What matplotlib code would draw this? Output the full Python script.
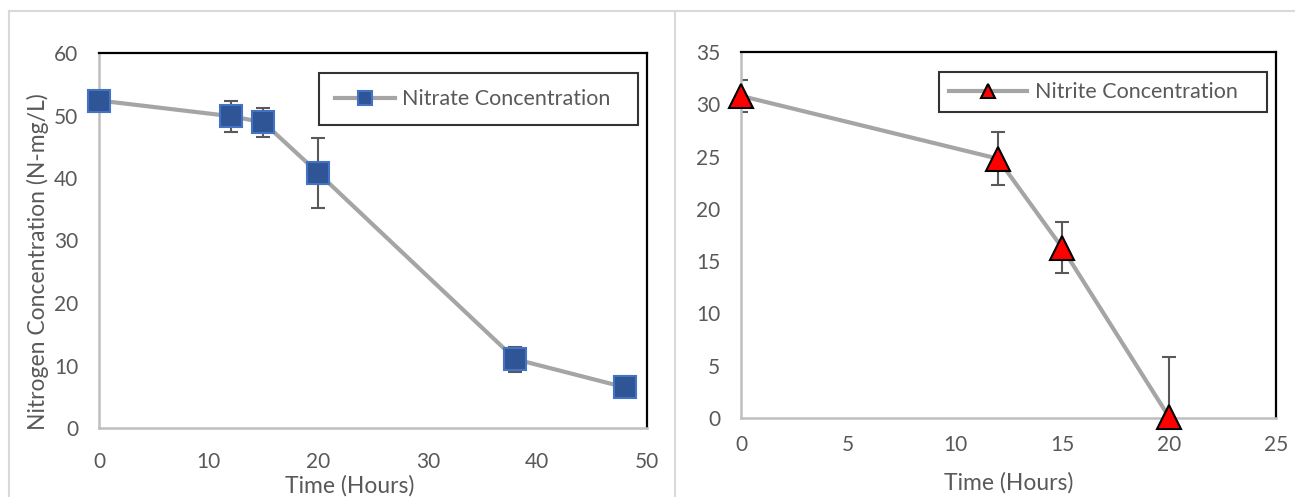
# nitrate / nitrite concentration over time, two panels
import matplotlib.pyplot as plt
from matplotlib.lines import Line2D

plt.rcParams['font.family'] = ['Lato', 'DejaVu Sans']

# data
nitrate_time = [0, 12, 15, 20, 38, 48]
nitrate_conc = [52.4, 49.9, 48.9, 40.8, 11.0, 6.5]
nitrate_err = [0.8, 2.5, 2.3, 5.6, 2.0, 0.8]

nitrite_time = [0, 12, 15, 20]
nitrite_conc = [30.8, 24.8, 16.3, 0.1]
nitrite_err = [1.5, 2.55, 2.4, 5.7]

txt = '#595959'
line_gray = '#a5a5a5'

fig = plt.figure(figsize=(12.95, 4.97), dpi=100)

# outer chart-area frames
for xs, ys in [([9/1295, 9/1295], [0, 1 - 11/497]),
               ([9/1295, 1], [1 - 11/497, 1 - 11/497]),
               ([675/1295, 675/1295], [0, 1 - 11/497])]:
    fig.add_artist(Line2D(xs, ys, color='#d9d9d9', lw=1.5))

ax1 = fig.add_axes([99/1295, 69/497, 548/1295, 375/497])
ax2 = fig.add_axes([741/1295, 79/497, 535/1295, 366/497])


def style(ax, xpad, ypad):
    for s in ['left', 'bottom']:
        ax.spines[s].set_color('#bfbfbf')
        ax.spines[s].set_linewidth(1.8)
    for s in ['top', 'right']:
        ax.spines[s].set_color('black')
        ax.spines[s].set_linewidth(1.6)
    ax.tick_params(axis='both', length=0, labelsize=15, labelcolor=txt)
    ax.tick_params(axis='x', pad=xpad)
    ax.tick_params(axis='y', pad=ypad)


def style_legend(leg):
    leg.get_frame().set_edgecolor('black')
    leg.get_frame().set_linewidth(1.5)
    for t in leg.get_texts():
        t.set_color(txt)


# left panel: nitrate
ax1.errorbar(nitrate_time, nitrate_conc, yerr=nitrate_err, fmt='none',
             ecolor=txt, elinewidth=1.5, capsize=5, capthick=1.5, zorder=2)
ax1.plot(nitrate_time, nitrate_conc, '-', color=line_gray, lw=3,
         marker='s', ms=16, mfc='#2f5597', mec='#4472c4', mew=1.5,
         label='Nitrate Concentration', zorder=3, clip_on=False)
ax1.set_xlim(0, 50)
ax1.set_ylim(0, 60)
ax1.set_xticks(range(0, 51, 10))
ax1.set_yticks(range(0, 61, 10))
style(ax1, 17, 15)
ax1.set_xlabel('Time (Hours)', fontsize=16.5, color=txt)
ax1.xaxis.set_label_coords(0.458, -0.153)
ax1.xaxis.label.set_va('center')
ax1.set_ylabel('Nitrogen Concentration (N-mg/L)', fontsize=16.5, color=txt)
ax1.yaxis.set_label_coords(-0.111, 0.443)
ax1.yaxis.label.set_va('center')
leg1 = ax1.legend(loc='center', bbox_to_anchor=(0.401, 0.813, 0.582, 0.128),
                  mode='expand', fontsize=15.5, frameon=True, fancybox=False,
                  handlelength=2.8, handletextpad=0.3, markerscale=0.6,
                  borderpad=0.75, borderaxespad=0)
style_legend(leg1)

# right panel: nitrite
ax2.errorbar(nitrite_time, nitrite_conc, yerr=nitrite_err, fmt='none',
             ecolor=txt, elinewidth=1.5, capsize=5, capthick=1.5, zorder=2)
ax2.plot(nitrite_time, nitrite_conc, '-', color=line_gray, lw=3,
         marker='^', ms=17, mfc='#ff0000', mec='black', mew=1.5,
         label='Nitrite Concentration', zorder=3, clip_on=False)
ax2.set_xlim(0, 25)
ax2.set_ylim(0, 35)
ax2.set_xticks(range(0, 26, 5))
ax2.set_yticks(range(0, 36, 5))
style(ax2, 12, 15)
ax2.set_xlabel('Time (Hours)', fontsize=16.5, color=txt)
ax2.xaxis.set_label_coords(0.5, -0.178)
ax2.xaxis.label.set_va('center')
leg2 = ax2.legend(loc='center', bbox_to_anchor=(0.371, 0.836, 0.613, 0.109),
                  mode='expand', fontsize=15.5, frameon=True, fancybox=False,
                  handlelength=3.6, handletextpad=0.4, markerscale=0.6,
                  borderpad=0.45, borderaxespad=0)
style_legend(leg2)

plt.savefig('out.png', dpi=100)
